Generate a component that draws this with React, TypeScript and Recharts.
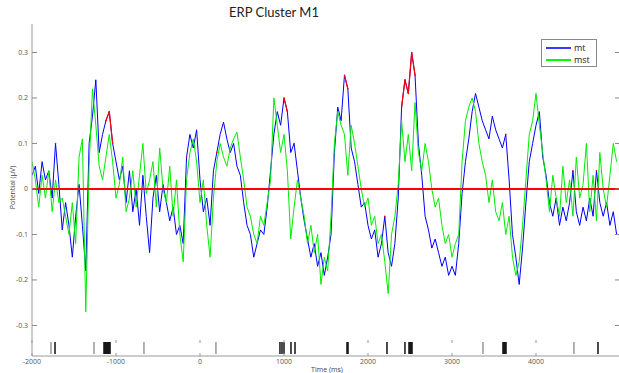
import React from 'react';
import { ComposedChart, Line, XAxis, YAxis, ReferenceLine, Scatter } from 'recharts';

// sample grid of the ERP traces (ms)
const T0 = -2000;
const STEP = 40;

const mt = [
  0.03, 0.05, -0.01, 0.06, 0.02, 0.04, -0.02, 0.10, 0.01, -0.09,
  -0.03, -0.08, -0.15, -0.06, 0.01, -0.08, -0.18, 0.10, 0.16, 0.24,
  0.08, 0.12, 0.15, 0.17, 0.10, 0.06, 0.02, 0.05, -0.03, 0.04,
  -0.05, 0.00, -0.08, 0.03, -0.06, -0.14, -0.02, 0.03, -0.05, 0.01,
  -0.03, -0.07, -0.04, -0.10, -0.08, -0.12, 0.07, 0.12, 0.09, 0.13,
  0.02, -0.05, -0.02, -0.08, 0.04, 0.08, 0.12, 0.147, 0.11, 0.08,
  0.10, 0.05, 0.03, -0.03, -0.08, -0.10, -0.15, -0.12, -0.09, -0.10,
  -0.04, 0.04, 0.12, 0.17, 0.14, 0.20, 0.17, 0.08, 0.10, 0.04,
  -0.02, -0.07, -0.11, -0.15, -0.12, -0.17, -0.14, -0.19, -0.15, -0.10,
  0.08, 0.18, 0.15, 0.25, 0.22, 0.09, 0.06, 0.01, -0.04, -0.03,
  -0.08, -0.11, -0.09, -0.15, -0.12, -0.06, -0.14, -0.17, -0.12, -0.02,
  0.18, 0.24, 0.21, 0.30, 0.25, 0.10, 0.03, -0.06, -0.09, -0.13,
  -0.11, -0.14, -0.17, -0.15, -0.19, -0.17, -0.19, -0.12, -0.01, 0.06,
  0.11, 0.17, 0.21, 0.18, 0.15, 0.13, 0.11, 0.16, 0.13, 0.11,
  0.09, 0.12, 0.02, -0.10, -0.15, -0.21, -0.13, -0.03, 0.06, 0.10,
  0.14, 0.17, 0.07, 0.03, -0.03, -0.06, -0.02, -0.08, -0.04, -0.07,
  -0.03, 0.04, -0.05, -0.08, -0.04, -0.07, -0.02, -0.06, 0.04, -0.03,
  -0.06, -0.03, -0.08, -0.05, -0.10,
];

const mst = [
  0.06, 0.02, -0.04, 0.03, -0.02, 0.04, -0.05, 0.02, -0.03, -0.02,
  -0.06, -0.10, -0.03, -0.12, 0.07, 0.11, -0.27, 0.05, 0.22, 0.14,
  0.05, 0.02, 0.07, 0.12, 0.06, -0.02, 0.01, 0.07, -0.05, -0.02,
  0.04, -0.04, 0.03, 0.10, -0.01, 0.02, 0.06, -0.04, 0.09, 0.00,
  -0.03, 0.05, -0.06, 0.02, -0.10, -0.16, 0.02, 0.08, 0.11, 0.06,
  -0.03, 0.02, -0.08, -0.15, -0.02, 0.06, 0.10, 0.07, 0.05, 0.09,
  0.11, 0.125, 0.07, 0.02, -0.04, -0.06, -0.10, -0.12, -0.06, -0.08,
  -0.03, 0.02, 0.20, 0.14, 0.08, 0.12, 0.04, -0.11, -0.04, 0.02,
  -0.02, -0.06, -0.12, -0.08, -0.14, -0.10, -0.21, -0.15, -0.18, -0.06,
  0.10, 0.17, 0.14, 0.12, 0.03, 0.14, 0.10, 0.05, 0.00, -0.04,
  -0.02, -0.08, -0.06, -0.12, -0.10, -0.16, -0.23, -0.10, -0.06, 0.01,
  0.15, 0.06, 0.12, 0.04, 0.19, 0.08, 0.04, 0.10, 0.06, 0.00,
  -0.04, -0.02, -0.08, -0.12, -0.10, -0.15, -0.12, -0.10, 0.06, 0.15,
  0.18, 0.20, 0.17, 0.10, 0.06, 0.03, -0.03, 0.02, -0.05, -0.07,
  -0.03, -0.10, -0.06, -0.15, -0.19, -0.16, -0.08, 0.02, 0.12, 0.15,
  0.21, 0.14, 0.08, 0.02, -0.05, 0.03, -0.02, -0.06, 0.05, -0.03,
  0.02, -0.06, 0.07, -0.02, 0.01, 0.10, -0.05, 0.03, -0.07, 0.08,
  0.00, -0.04, 0.03, 0.10, 0.06,
];

// sample indices where mt is marked significant (red)
const sigIdx = [7, 22, 23, 24, 46, 55, 75, 76, 78, 93, 94, 105, 110, 111, 112, 113, 114, 141, 161, 168];

// raster events in the strip below (ms)
const eventsBlack = [
  -1726, -1143, -1131, -1119, -1107, -1095, -1083, -1071,
  952, 976, 1000, 1083, 1131, 1750, 1762, 2226, 2440,
  2488, 2500, 2512, 2524, 3607, 3619, 3631, 3643, 4738,
];
const eventsGrey = [-1774, -1262, -667, 190, 3369, 4452];

const yTicks = [-0.3, -0.2, -0.1, 0, 0.1, 0.2, 0.3];
const xTicks = [-2000, -1000, 0, 1000, 2000, 3000, 4000];
const X_DOMAIN = [-2000, 5000];
const Y_DOMAIN = [-0.332, 0.3626];

const series = [
  { key: 'mt', name: 'mt', color: '#0000ff', legendColor: '#3a3aff' },
  { key: 'mst', name: 'mst', color: '#00ee00', legendColor: '#00ff00' },
];

const data = mt.map((v, i) => ({
  t: T0 + i * STEP,
  mt: v,
  mst: mst[i],
  sig: sigIdx.includes(i) ? v : null,
}));

const evBlack = eventsBlack.map((t) => ({ t, y: 0.5 }));
const evGrey = eventsGrey.map((t) => ({ t, y: 0.5 }));

const FONT = '"Open Sans", "DejaVu Sans", sans-serif';
const PLOT_RIGHT = 620;

const YTick = (props: any) => {
  const { x, y, payload } = props;
  return (
    <g>
      <text x={x} y={y} dy={2.5} textAnchor="end" fontSize={7} fill="#555" fontFamily={FONT}>
        {payload.value}
      </text>
      <line x1={x + 4} x2={x + 9} y1={y} y2={y} stroke="#888" />
      <line x1={PLOT_RIGHT - 5} x2={PLOT_RIGHT} y1={y} y2={y} stroke="#888" />
    </g>
  );
};

const XTick = (props: any) => {
  const { x, y, payload } = props;
  return (
    <g>
      <text x={x} y={y} dy={6} textAnchor="middle" fontSize={7} fill="#555" fontFamily={FONT}>
        {payload.value}
      </text>
      <line x1={x} x2={x} y1={y - 18} y2={y - 15} stroke="#999" />
      <line x1={x} x2={x} y1={y - 5} y2={y - 2} stroke="#999" />
    </g>
  );
};

const EventShape = (color: string, w: number) => (props: any) => {
  const { cx, cy } = props;
  return <line x1={cx} x2={cx} y1={cy - 6} y2={cy + 6} stroke={color} strokeWidth={w} />;
};

export default function App() {
  return (
    <div
      style={{
        position: 'absolute',
        left: 0,
        top: 0,
        width: 619,
        height: 373,
        overflow: 'hidden',
        background: '#fff',
        fontFamily: FONT,
      }}
    >
      <div
        style={{
          position: 'absolute',
          left: 0,
          top: 5,
          width: 548,
          textAlign: 'center',
          fontSize: 13,
          lineHeight: '15px',
          color: '#222',
          fontFamily: 'Lato, "Open Sans", sans-serif',
        }}
      >
        ERP Cluster M1
      </div>

      <div style={{ position: 'absolute', left: 0, top: 0 }}>
        <ComposedChart width={621} height={341} data={data} margin={{ top: 24, right: 1, bottom: 1, left: 0 }}>
          <XAxis
            dataKey="t"
            type="number"
            orientation="top"
            domain={X_DOMAIN}
            allowDataOverflow
            tick={false}
            tickLine={false}
            height={0}
            axisLine={{ stroke: '#999' }}
          />
          <YAxis
            type="number"
            domain={Y_DOMAIN}
            allowDataOverflow
            ticks={yTicks}
            width={32}
            tickSize={0}
            tickMargin={4}
            tickLine={false}
            tick={<YTick />}
            axisLine={{ stroke: '#999' }}
          />
          <Line type="linear" dataKey="mt" stroke="#0000ff" strokeWidth={1} dot={false} isAnimationActive={false} />
          <Line type="linear" dataKey="mst" stroke="#00ee00" strokeWidth={1} dot={false} isAnimationActive={false} />
          <Line
            type="linear"
            dataKey="sig"
            stroke="#ff0000"
            strokeWidth={1.2}
            dot={{ r: 0.8, fill: '#ff0000', stroke: 'none' }}
            connectNulls={false}
            isAnimationActive={false}
          />
          <ReferenceLine y={0} stroke="#ff0000" strokeWidth={2} />
        </ComposedChart>
      </div>

      <div style={{ position: 'absolute', left: 0, top: 340 }}>
        <ComposedChart width={621} height={33} margin={{ top: 0, right: 1, bottom: 0, left: 0 }}>
          <XAxis
            xAxisId="top"
            dataKey="t"
            type="number"
            orientation="top"
            domain={X_DOMAIN}
            allowDataOverflow
            tick={false}
            tickLine={false}
            height={0}
            axisLine={{ stroke: '#444' }}
          />
          <XAxis
            dataKey="t"
            type="number"
            domain={X_DOMAIN}
            allowDataOverflow
            ticks={xTicks}
            height={17}
            tickSize={0}
            tickMargin={2}
            tickLine={false}
            tick={<XTick />}
            axisLine={{ stroke: '#999' }}
          />
          <YAxis
            type="number"
            dataKey="y"
            domain={[0, 1]}
            width={32}
            tick={false}
            tickLine={false}
            axisLine={{ stroke: '#999' }}
          />
          <Scatter data={evGrey} dataKey="y" shape={EventShape('#666', 1)} isAnimationActive={false} />
          <Scatter data={evBlack} dataKey="y" shape={EventShape('#000', 1.4)} isAnimationActive={false} />
        </ComposedChart>
      </div>

      <div
        style={{
          position: 'absolute',
          left: 297,
          top: 365,
          width: 60,
          textAlign: 'center',
          fontSize: 7,
          lineHeight: '9px',
          color: '#444',
        }}
      >
        Time (ms)
      </div>

      <div
        style={{
          position: 'absolute',
          left: -18,
          top: 183,
          width: 61,
          height: 9,
          textAlign: 'center',
          fontSize: 7,
          lineHeight: '9px',
          color: '#444',
          transform: 'rotate(-90deg)',
        }}
      >
        Potential (μV)
      </div>

      <div
        style={{
          position: 'absolute',
          left: 541,
          top: 39,
          width: 54,
          height: 26,
          border: '1px solid #888',
          background: '#fff',
        }}
      >
        {series.map((s, i) => (
          <div
            key={s.key}
            style={{ position: 'absolute', left: 4, top: 2 + i * 12, height: 11, display: 'flex', alignItems: 'center' }}
          >
            <div style={{ width: 25, height: 2, background: s.legendColor }} />
            <span style={{ marginLeft: 3, fontSize: 9, color: '#222', lineHeight: '11px' }}>{s.name}</span>
          </div>
        ))}
      </div>
    </div>
  );
}
